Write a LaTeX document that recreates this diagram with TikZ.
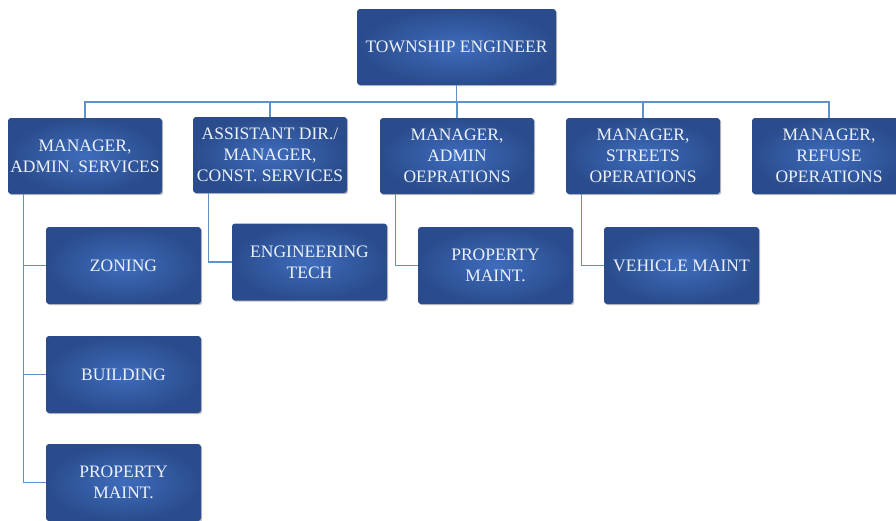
\documentclass[tikz,border=0pt]{standalone}
\usepackage{fontspec}
\setmainfont{Liberation Serif}
\usetikzlibrary{shadows}
\definecolor{boxin}{RGB}{62,108,188}
\definecolor{boxout}{RGB}{42,76,140}
\definecolor{conn}{RGB}{96,146,200}
\definecolor{txt}{RGB}{236,241,250}
\begin{document}
\begin{tikzpicture}[x=1pt,y=-1pt,
  orgbox/.style={rectangle, rounded corners=3pt, inner color=boxin, outer color=boxout,
    text=txt, align=center, inner sep=0pt, minimum width=154pt, minimum height=76pt,
    font=\fontsize{17.5}{21}\selectfont,
    drop shadow={shadow xshift=1.2pt, shadow yshift=-1.2pt, opacity=0.35, fill=black!70}},
  childbox/.style={orgbox, minimum width=155pt, minimum height=77pt},
  link/.style={draw=conn, line width=1.3pt}]
\useasboundingbox (0,0) rectangle (896,520);
\coordinate (busy) at (0,102);
% nodes
\node[orgbox, minimum width=199pt] (top) at (456.5,47) {TOWNSHIP ENGINEER};
\node[orgbox] (b1) at (85,156) {MANAGER,\\ADMIN. SERVICES};
\node[orgbox] (b2) at (270,155) {ASSISTANT DIR./\\MANAGER,\\CONST. SERVICES};
\node[orgbox] (b3) at (457,156) {MANAGER,\\ADMIN\\OEPRATIONS};
\node[orgbox] (b4) at (643,156) {MANAGER,\\STREETS\\OPERATIONS};
\node[orgbox] (b5) at (829,156) {MANAGER,\\REFUSE\\OPERATIONS};
\node[childbox] (zoning) at (123.5,265.5) {ZONING};
\node[childbox] (building) at (123.5,374.5) {BUILDING};
\node[childbox] (pm1) at (123.5,482.5) {PROPERTY\\MAINT.};
\node[childbox] (eng) at (309.5,262) {ENGINEERING\\TECH};
\node[childbox] (pm3) at (495.5,265.5) {PROPERTY\\MAINT.};
\node[childbox] (veh) at (681.5,265.5) {VEHICLE MAINT};
% connectors
\draw[link] (top.south) -- (top.south |- busy);
\draw[link] (b1.north) -- (b1.north |- busy) -| (b5.north);
\draw[link] (b2.north) -- (b2.north |- busy);
\draw[link] (b3.north) -- (b3.north |- busy);
\draw[link] (b4.north) -- (b4.north |- busy);
\draw[link] ([xshift=16pt]b1.south west) |- (zoning.west);
\draw[link] ([xshift=16pt]b1.south west) |- (building.west);
\draw[link] ([xshift=16pt]b1.south west) |- (pm1.west);
\draw[link] ([xshift=16pt]b2.south west) |- (eng.west);
\draw[link] ([xshift=16pt]b3.south west) |- (pm3.west);
\draw[link] ([xshift=16pt]b4.south west) |- (veh.west);
\end{tikzpicture}
\end{document}
